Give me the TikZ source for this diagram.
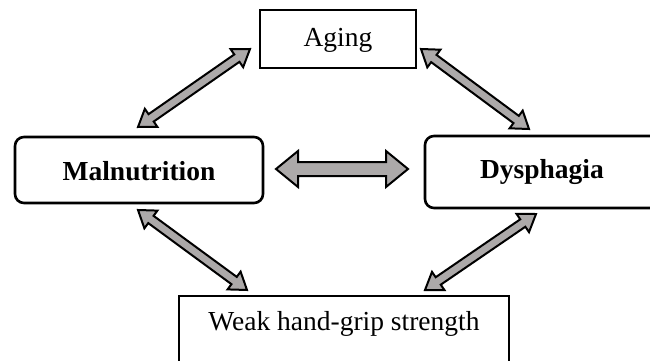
\documentclass[tikz,border=0pt]{standalone}
\usepackage{fontspec}
\setmainfont{Liberation Serif}
\usetikzlibrary{calc}
\definecolor{arrgray}{RGB}{172,169,169}
\tikzset{
  arr/.style={fill=arrgray,draw=black,line width=2pt,line join=miter,miter limit=10},
  sqbox/.style={draw=black,line width=1.6pt,fill=white},
  rdbox/.style={draw=black,line width=2.6pt,rounded corners=9pt,fill=white},
  lbl/.style={font=\fontsize{27.5}{30}\selectfont,inner sep=0pt},
}
% #1 start, #2 end, #3 shaft half width, #4 head half width, #5 head length
\newcommand\myarrow[5]{%
 \filldraw[arr] (#1) -- ($(#1)!#5!(#2)!#4!90:(#2)$) -- ($(#1)!#5!(#2)!#3!90:(#2)$)
  -- ($(#2)!#5!(#1)!#3!-90:(#1)$) -- ($(#2)!#5!(#1)!#4!-90:(#1)$) -- (#2)
  -- ($(#2)!#5!(#1)!#4!90:(#1)$) -- ($(#2)!#5!(#1)!#3!90:(#1)$)
  -- ($(#1)!#5!(#2)!#3!-90:(#2)$) -- ($(#1)!#5!(#2)!#4!-90:(#2)$) -- cycle;}
\begin{document}
\begin{tikzpicture}[x=1pt,y=-1pt]
\useasboundingbox (0,0) rectangle (650,361);
\clip (0,0) rectangle (650,361);
\fill[white] (0,0) rectangle (650,361);
% boxes
\draw[sqbox] (260,10) rectangle (416,68);
\node[lbl] (aging) at (338,40) {Aging};
\draw[rdbox] (15,137) rectangle (263,203);
\node[lbl,font=\fontsize{27.5}{30}\selectfont\bfseries] (mal) at (139,171) {Malnutrition};
\draw[rdbox] (425,136) rectangle (662,208);
\node[lbl,font=\fontsize{27.5}{30}\selectfont\bfseries] (dys) at (542,172) {Dysphagia};
\draw[sqbox] (179,296) rectangle (509,375);
\node[lbl] (weak) at (344,324) {Weak hand-grip strength};
% arrow end points
\coordinate (a1) at (138,127); \coordinate (a2) at (250,49);
\coordinate (b1) at (421,49); \coordinate (b2) at (529,129);
\coordinate (c1) at (276,169); \coordinate (c2) at (408,169);
\coordinate (d1) at (138,210); \coordinate (d2) at (247,290);
\coordinate (e1) at (425,290); \coordinate (e2) at (536,214);
\myarrow{a1}{a2}{4.5pt}{11pt}{16pt}
\myarrow{b1}{b2}{4.5pt}{11pt}{16pt}
\myarrow{c1}{c2}{7pt}{18pt}{22pt}
\myarrow{d1}{d2}{4.5pt}{11pt}{16pt}
\myarrow{e1}{e2}{4.5pt}{11pt}{16pt}
\end{tikzpicture}
\end{document}
